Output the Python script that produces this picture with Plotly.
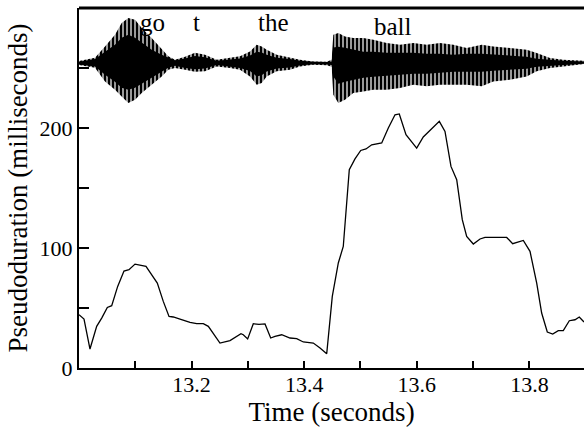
import plotly.graph_objects as go

# Pseudoduration track (time in s, value in ms)
pd_time = [13.000, 13.0089, 13.0195, 13.0314, 13.0403, 13.0503, 13.0581, 13.0687,
           13.0799, 13.0888, 13.0995, 13.1190, 13.1391, 13.1497, 13.1599, 13.1675,
           13.1794, 13.1972, 13.2091, 13.2208, 13.2297, 13.2504, 13.2682, 13.2877,
           13.2918, 13.2996, 13.3096, 13.3197, 13.3304, 13.3405, 13.3481, 13.3600,
           13.3748, 13.3867, 13.3984, 13.4162, 13.4281, 13.4400, 13.4499, 13.4606,
           13.4694, 13.4801, 13.4902, 13.5004, 13.5098, 13.5199, 13.5377, 13.5494,
           13.5613, 13.5689, 13.5808, 13.5998, 13.6115, 13.6400, 13.6501, 13.6607,
           13.6709, 13.6808, 13.6886, 13.7004, 13.7123, 13.7211, 13.7597, 13.7703,
           13.7892, 13.8011, 13.8130, 13.8218, 13.8318, 13.8414, 13.8513, 13.8602,
           13.8709, 13.8810, 13.8886, 13.8970]
pd_value = [44.4, 40.8, 15.8, 34.7, 41.6, 50.5, 51.9, 68.0,
            80.8, 81.9, 86.6, 84.7, 70.8, 55.5, 43.0, 42.5,
            40.8, 38.0, 36.9, 36.9, 34.7, 20.8, 22.8, 28.6,
            27.7, 24.2, 36.9, 36.3, 36.7, 25.0, 26.3, 27.7,
            25.0, 24.4, 21.7, 20.8, 16.7, 11.9, 59.7, 87.5,
            101.3, 165.3, 174.2, 181.3, 182.5, 186.0, 187.5, 200.0,
            211.0, 211.7, 194.4, 183.3, 192.5, 205.5, 197.2, 168.0,
            156.9, 123.6, 109.7, 103.3, 107.5, 108.8, 108.8, 103.6,
            106.3, 97.2, 70.8, 45.8, 30.0, 28.3, 31.1, 31.1,
            39.4, 40.2, 42.5, 38.3]

# Speech waveform envelope drawn above the track (in axis units)
wave_time = [13.000, 13.0284, 13.0462, 13.0639, 13.0758, 13.0876, 13.0995, 13.1114,
             13.1291, 13.1469, 13.1586, 13.1705, 13.1883, 13.2060, 13.2238, 13.2446,
             13.2682, 13.2860, 13.3037, 13.3156, 13.3245, 13.3334, 13.3512, 13.3748,
             13.3925, 13.4156, 13.4400, 13.4488, 13.4517, 13.4606, 13.4725, 13.4872,
             13.5050, 13.5227, 13.5465, 13.5702, 13.5938, 13.6176, 13.6412, 13.6648,
             13.6886, 13.7153, 13.7359, 13.7655, 13.7952, 13.8130, 13.8366, 13.8602,
             13.8970]
wave_upper = [255.8, 258.6, 268.0, 277.8, 287.5, 291.7, 290.3, 283.3,
              275.0, 265.3, 259.7, 256.9, 259.4, 262.8, 261.1, 256.9,
              258.3, 259.7, 263.8, 269.4, 268.0, 265.3, 261.1, 258.8,
              256.9, 255.5, 255.3, 256.9, 277.8, 279.2, 276.3, 275.0,
              275.0, 273.6, 270.8, 269.4, 270.8, 269.4, 270.8, 269.4,
              266.7, 269.4, 268.0, 266.7, 265.3, 262.5, 258.3, 256.9,
              256.1]
wave_lower = [252.5, 250.3, 238.8, 231.9, 226.3, 220.8, 223.6, 229.2,
              236.1, 243.0, 248.6, 250.0, 248.6, 246.9, 247.2, 251.3,
              250.0, 248.6, 243.0, 236.1, 237.5, 243.0, 247.2, 248.6,
              251.3, 252.8, 252.3, 251.1, 227.8, 220.8, 223.6, 229.2,
              230.5, 231.9, 231.9, 233.3, 236.1, 234.7, 236.1, 236.1,
              236.1, 234.7, 238.8, 240.3, 243.0, 247.2, 250.0, 251.3,
              253.3]
core_upper = [255.3, 257.5, 263.6, 269.4, 275.3, 277.8, 275.3, 271.1,
              265.3, 261.1, 258.6, 256.5, 258.0, 260.0, 259.0, 256.0,
              257.0, 258.0, 260.5, 263.5, 263.0, 261.0, 258.6, 257.5,
              256.0, 255.2, 255.0, 255.5, 267.0, 267.8, 266.9, 265.3,
              263.6, 263.6, 262.8, 262.8, 262.8, 261.9, 261.9, 261.1,
              261.9, 261.9, 261.1, 260.3, 259.4, 257.8, 256.9, 256.0,
              255.5]
core_lower = [253.0, 251.3, 244.4, 238.6, 233.6, 231.9, 233.6, 236.9,
              241.9, 246.9, 250.3, 251.9, 250.0, 249.0, 249.5, 252.5,
              251.3, 250.0, 247.5, 243.0, 244.0, 247.0, 249.5, 250.5,
              252.0, 253.2, 253.0, 252.5, 243.0, 236.9, 238.6, 240.3,
              241.9, 242.8, 243.6, 244.4, 245.3, 245.3, 246.1, 246.9,
              246.9, 246.9, 247.8, 248.6, 249.4, 251.1, 251.9, 252.5,
              253.5]

words = ["go", "t", "the", "ball"]
word_time = [13.1306, 13.2087, 13.3446, 13.5583]
word_level = [275, 275, 275, 272]

x_ticks = [13.1, 13.2, 13.3, 13.4, 13.5, 13.6, 13.7, 13.8]
x_ticktext = ["", "13.2", "", "13.4", "", "13.6", "", "13.8"]
y_ticks = [0, 50, 100, 150, 200, 250]
y_ticktext = ["0", "", "100", "", "200", ""]

SERIF = "Liberation Serif, Times New Roman, Times, serif"

fig = go.Figure()
fig.add_trace(go.Scatter(x=wave_time, y=wave_upper, mode="lines",
                         line=dict(width=0, color="black"), hoverinfo="skip"))
fig.add_trace(go.Scatter(x=wave_time, y=wave_lower, mode="lines", fill="tonexty",
                         fillcolor="black",
                         fillpattern=dict(shape="|", fgcolor="black", bgcolor="white",
                                          fgopacity=1, fillmode="replace",
                                          size=4, solidity=0.7),
                         line=dict(width=0, color="black"), hoverinfo="skip"))
fig.add_trace(go.Scatter(x=wave_time, y=core_upper, mode="lines",
                         line=dict(width=0, color="black"), hoverinfo="skip"))
fig.add_trace(go.Scatter(x=wave_time, y=core_lower, mode="lines", fill="tonexty",
                         fillcolor="black", line=dict(width=0, color="black"),
                         hoverinfo="skip"))
fig.add_trace(go.Scatter(x=pd_time, y=pd_value, mode="lines",
                         line=dict(width=1.3, color="black")))

for w, t, lv in zip(words, word_time, word_level):
    fig.add_annotation(x=t, y=lv, text=w, showarrow=False, xanchor="center",
                       yanchor="bottom", font=dict(family=SERIF, size=25, color="black"))

fig.add_shape(type="line", xref="paper", yref="paper", x0=0, x1=1, y0=1, y1=1,
              line=dict(color="black", width=3))

fig.update_layout(
    width=584, height=428,
    margin=dict(l=79, r=0, t=8, b=60, autoexpand=False),
    plot_bgcolor="white", paper_bgcolor="white",
    showlegend=False,
    font=dict(family=SERIF, color="black", size=22),
)
fig.update_xaxes(range=[13.0, 13.897], tickvals=x_ticks, ticktext=x_ticktext,
                 ticks="inside", ticklen=7, tickwidth=1.5, tickcolor="black",
                 showline=True, linewidth=2, linecolor="black",
                 showgrid=False, zeroline=False, ticklabelstandoff=-4,
                 tickfont=dict(family=SERIF, size=22),
                 title=dict(text="Time (seconds)", font=dict(family=SERIF, size=27),
                            standoff=6))
fig.update_yaxes(range=[0, 300], tickvals=y_ticks, ticktext=y_ticktext,
                 ticks="inside", ticklen=10, tickwidth=1.5, tickcolor="black",
                 showline=True, linewidth=2, linecolor="black",
                 showgrid=False, zeroline=False,
                 tickfont=dict(family=SERIF, size=22),
                 title=dict(text="Pseudoduration (milliseconds)",
                            font=dict(family=SERIF, size=27), standoff=4))

fig.write_html("out.html")
